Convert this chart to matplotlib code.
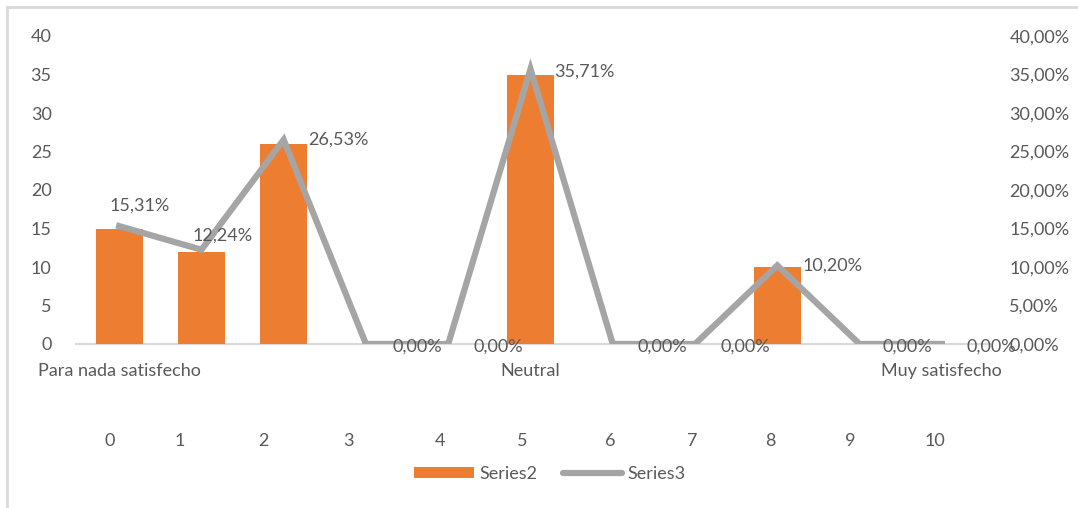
import matplotlib
matplotlib.use("Agg")
import matplotlib.pyplot as plt
from matplotlib.lines import Line2D
from matplotlib.patches import Patch

plt.rcParams['font.family'] = ['Lato', 'DejaVu Sans']

# Satisfaction scale 0..10
categories = list(range(11))
scale_labels = ["Para nada satisfecho", "", "", "", "", "Neutral", "", "", "", "", "Muy satisfecho"]
series2 = [15, 12, 26, 0, 0, 35, 0, 0, 10, 0, 0]
series3 = [15.31, 12.24, 26.53, 0.0, 0.0, 35.71, 0.0, 0.0, 10.20, 0.0, 0.0]
left_ticks = [0, 5, 10, 15, 20, 25, 30, 35, 40]
right_ticks = [0, 5, 10, 15, 20, 25, 30, 35, 40]

ORANGE = "#ED7D31"
GREY = "#A5A5A5"
TEXT = "#595959"
FS = 13

fig = plt.figure(figsize=(10.78, 5.08), dpi=100)
fig.patch.set_facecolor("white")

# chart frame (top and left edges)
fig.add_artist(Line2D([7 / 1078, 1.0], [1 - 7 / 508, 1 - 7 / 508], color="#D9D9D9", lw=2))
fig.add_artist(Line2D([7 / 1078, 7 / 1078], [0, 1 - 7 / 508], color="#D9D9D9", lw=2))

ax = fig.add_axes([78 / 1078, 1 - 344 / 508, (983 - 78) / 1078, (344 - 36) / 508])
ax.bar(categories, series2, width=0.57, color=ORANGE, zorder=2)
ax.set_xlim(-0.5, 10.5)
ax.set_ylim(0, 40)
ax.set_yticks(left_ticks)
ax.set_yticklabels([str(t) for t in left_ticks])
ax.set_xticks(categories)
ax.set_xticklabels(scale_labels)
for s in ax.spines.values():
    s.set_visible(False)
ax.tick_params(axis="both", length=0, colors=TEXT, labelsize=FS)
ax.tick_params(axis="y", pad=19)
ax.tick_params(axis="x", pad=14)
ax.axhline(0, color="#D9D9D9", lw=1.5, zorder=1, xmin=-0.002, xmax=1.008, clip_on=False)

ax2 = ax.twinx()
ax2.plot(categories, series3, color=GREY, lw=4.5, solid_joinstyle="miter", zorder=3)
ax2.set_ylim(0, 40)
ax2.set_yticks(right_ticks)
ax2.set_yticklabels([f"{t:.2f}%".replace(".", ",") for t in right_ticks])
for s in ax2.spines.values():
    s.set_visible(False)
ax2.tick_params(axis="y", length=0, colors=TEXT, labelsize=FS, pad=19)

# data labels on the percentage line
offsets = [(21, 20), (21, 14), (55, 0), (51, -3), (50, -3), (54, -3),
           (50, -3), (50, -3), (55, 0), (48, -3), (49, -3)]
for x, v, (dx, dy) in zip(categories, series3, offsets):
    ax2.annotate(f"{v:.2f}%".replace(".", ","), (x, v), xytext=(dx * 0.72, dy * 0.72),
                 textcoords="offset points", ha="center", va="center",
                 color=TEXT, fontsize=FS, zorder=4, annotation_clip=False)

# second row of scale numbers under the category names
number_pos = [-0.11, 0.74, 1.75, 2.79, 3.9, 4.9, 5.97, 6.96, 7.91, 8.89, 9.91]
row_y = -(441 - 344) / (344 - 36)
for p, c in zip(number_pos, categories):
    ax.text(p, row_y, str(c), transform=ax.get_xaxis_transform(), ha="center", va="center",
            color=TEXT, fontsize=FS)

handles = [Patch(facecolor=ORANGE, edgecolor="none"),
           Line2D([], [], color=GREY, lw=4.5, solid_capstyle="round")]
fig.legend(handles, ["Series2", "Series3"], loc="center", bbox_to_anchor=(550 / 1078, 1 - 474 / 508),
           ncol=2, frameon=False, fontsize=FS, labelcolor=TEXT, handlelength=3.3, handleheight=0.55,
           handletextpad=0.3, columnspacing=1.4)

fig.savefig("out.png", dpi=100, facecolor="white")
